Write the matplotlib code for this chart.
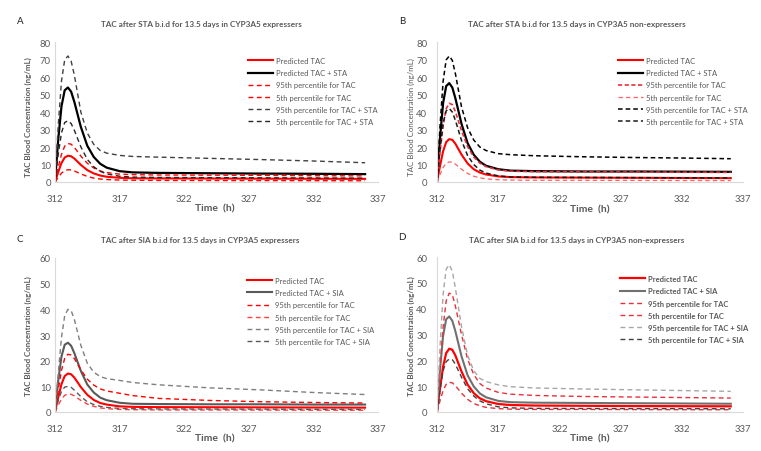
import matplotlib
matplotlib.use("Agg")
import matplotlib.pyplot as plt

plt.rcParams['font.family'] = ['Lato', 'DejaVu Sans']

# ------------------ Data ------------------
time_h = [312, 312.25, 312.5, 312.75, 313, 313.25, 313.5, 314, 314.5, 315, 315.5,
          316, 317, 318, 320, 324, 328, 332, 336]
x_ticks = [312, 317, 322, 327, 332, 337]

# A: STA, CYP3A5 expressers
a_tac = [0, 5.7, 10.8, 14.0, 15.0, 14.7, 13.4, 9.8, 6.8, 4.9, 3.7, 3.0, 2.4, 2.15, 2.05, 2.0, 1.9, 1.85, 1.8]
a_sta = [0, 24.3, 43.2, 52.4, 54.0, 51.6, 45.7, 31.5, 20.7, 14.3, 10.4, 8.2, 6.2, 5.5, 5.2, 5.0, 4.8, 4.7, 4.5]
a_tac95 = [0, 8.4, 15.8, 20.5, 22.0, 21.6, 19.8, 14.8, 10.7, 8.0, 6.3, 5.4, 4.5, 4.2, 4.0, 3.9, 3.8, 3.6, 3.5]
a_tac5 = [0, 2.7, 5.0, 6.5, 7.0, 6.9, 6.3, 4.6, 3.2, 2.2, 1.7, 1.4, 1.1, 1.0, 0.9, 0.85, 0.8, 0.75, 0.7]
a_sta95 = [0, 32.4, 57.6, 69.8, 72.0, 69.0, 61.0, 40.0, 28.0, 21.5, 18.0, 16.5, 15.2, 14.6, 14.2, 13.5, 12.8, 12.0, 11.0]
a_sta5 = [0, 15.8, 28.0, 34.0, 35.0, 33.4, 29.5, 20.1, 12.9, 8.7, 6.1, 4.6, 3.3, 2.8, 2.6, 2.5, 2.4, 2.3, 2.2]

# B: STA, CYP3A5 non-expressers
b_tac = [0, 9.3, 17.6, 22.8, 24.5, 24.1, 21.9, 15.7, 10.6, 7.3, 5.4, 4.3, 3.2, 2.8, 2.6, 2.5, 2.4, 2.3, 2.2]
b_sta = [0, 25.4, 45.2, 54.8, 56.5, 54.0, 47.9, 33.3, 22.2, 15.6, 11.6, 9.3, 7.3, 6.5, 6.2, 6.0, 6.0, 5.9, 5.8]
b_tac95 = [0, 17.1, 32.4, 41.9, 45.0, 44.2, 40.3, 29.3, 20.2, 14.3, 10.8, 8.8, 6.9, 6.2, 5.9, 5.8, 5.7, 5.6, 5.5]
b_tac5 = [0, 4.4, 8.3, 10.7, 11.5, 11.3, 10.2, 7.3, 4.9, 3.3, 2.4, 1.8, 1.3, 1.1, 1.0, 0.95, 0.9, 0.85, 0.8]
b_sta95 = [0, 32.4, 57.6, 69.8, 72.0, 69.5, 62.0, 43.0, 31.0, 24.0, 20.0, 18.0, 16.2, 15.6, 15.0, 14.4, 14.0, 13.7, 13.3]
b_sta5 = [0, 18.9, 33.6, 40.7, 42.0, 40.0, 35.3, 23.8, 15.1, 10.0, 6.8, 5.1, 3.5, 2.9, 2.7, 2.6, 2.5, 2.4, 2.3]

# C: SIA, CYP3A5 expressers
c_tac = [0, 5.7, 10.8, 14.0, 15.0, 14.7, 13.4, 9.7, 6.7, 4.7, 3.5, 2.9, 2.2, 2.0, 1.9, 1.85, 1.8, 1.75, 1.7]
c_sia = [0, 12.2, 21.6, 26.2, 27.0, 25.8, 22.9, 16.0, 10.7, 7.6, 5.6, 4.6, 3.6, 3.2, 3.1, 3.0, 3.0, 2.9, 2.9]
c_tac95 = [0, 8.6, 16.2, 20.9, 22.5, 22.2, 20.8, 16.5, 12.8, 10.5, 9.0, 8.2, 7.3, 6.4, 5.3, 4.5, 4.0, 3.7, 3.5]
c_tac5 = [0, 2.7, 5.0, 6.5, 7.0, 6.9, 6.3, 4.5, 3.1, 2.2, 1.6, 1.3, 1.0, 0.9, 0.8, 0.8, 0.75, 0.7, 0.7]
c_sia95 = [0, 15.0, 29.0, 37.5, 40.0, 39.5, 36.0, 26.0, 19.0, 15.5, 13.8, 13.0, 12.3, 11.5, 10.6, 9.4, 8.6, 7.6, 6.8]
c_sia5 = [0, 4.5, 8.0, 9.7, 10.0, 9.6, 8.5, 6.0, 4.0, 2.9, 2.2, 1.8, 1.4, 1.3, 1.2, 1.15, 1.1, 1.05, 1.0]

# D: SIA, CYP3A5 non-expressers
d_tac = [0, 9.3, 17.6, 22.8, 24.5, 24.1, 21.9, 15.7, 10.6, 7.3, 5.3, 4.2, 3.1, 2.7, 2.5, 2.4, 2.3, 2.25, 2.2]
d_sia = [0, 16.7, 29.6, 35.9, 37.0, 35.3, 31.3, 21.6, 14.2, 9.9, 7.2, 5.7, 4.3, 3.8, 3.6, 3.5, 3.4, 3.3, 3.2]
d_tac95 = [0, 17.5, 33.0, 43.0, 46.0, 45.5, 41.0, 30.0, 20.5, 14.5, 11.0, 9.3, 7.6, 6.9, 6.4, 6.0, 5.8, 5.6, 5.4]
d_tac5 = [0, 4.4, 8.3, 10.7, 11.5, 11.3, 10.2, 7.3, 4.9, 3.3, 2.4, 1.8, 1.3, 1.1, 1.0, 1.0, 0.95, 0.9, 0.9]
d_sia95 = [0, 25.6, 45.6, 55.3, 57.0, 54.5, 48.0, 33.0, 22.0, 16.0, 13.0, 11.8, 10.5, 9.8, 9.3, 8.9, 8.6, 8.3, 8.0]
d_sia5 = [0, 8.5, 16.0, 19.5, 20.5, 20.3, 18.5, 13.5, 9.0, 6.2, 4.3, 3.2, 2.0, 1.6, 1.4, 1.35, 1.3, 1.3, 1.25]

TXT = '#595959'
W, H = 761, 452

fig = plt.figure(figsize=(W / 100, H / 100), dpi=100)


def px_axes(left, right, top, bottom):
    # axes box given in pixel coords of the figure
    return fig.add_axes([left / W, 1 - bottom / H, (right - left) / W, (bottom - top) / H])


def style_axes(ax, ymax, ypad):
    ax.set_xlim(312, 337)
    ax.set_ylim(0, ymax)
    ax.set_xticks(x_ticks)
    ax.set_yticks(range(0, ymax + 1, 10))
    for s in ['top', 'right']:
        ax.spines[s].set_visible(False)
    for s in ['left', 'bottom']:
        ax.spines[s].set_color('#D9D9D9')
        ax.spines[s].set_linewidth(0.8)
    ax.tick_params(length=0, labelsize=6.8, colors=TXT)
    ax.tick_params(axis='y', pad=ypad)
    ax.tick_params(axis='x', pad=9)


def add_legend(ax, x, y, bold=False):
    leg = ax.legend(loc='upper left', bbox_to_anchor=(x, y), frameon=False,
                    handlelength=3.3, handletextpad=0.35, labelspacing=0.68,
                    borderpad=0, borderaxespad=0, labelcolor=TXT,
                    prop={'size': 5.5, 'weight': 'bold' if bold else 'normal'})
    return leg


def texts(cx, title, ty, tx, time_y, letter, lx, ly, ylab_x, ylab_y, ybold=True):
    fig.text(cx / W, 1 - ty / H, title, ha='center', va='center', fontsize=5.9,
             color=TXT, fontweight='bold')
    fig.text(lx / W, 1 - ly / H, letter, ha='center', va='center', fontsize=7, color='#222222')
    fig.text(tx / W, 1 - time_y / H, 'Time  (h)', ha='center', va='center',
             fontsize=7.5, color=TXT, fontweight='bold')
    fig.text(ylab_x / W, 1 - ylab_y / H, 'TAC Blood Concentration (ng/mL)', rotation=90,
             ha='center', va='center', fontsize=5.7, color=TXT,
             fontweight='bold' if ybold else 'normal')


dash = (0, (3.5, 2.5))

# -------- A --------
ax = px_axes(55, 378, 43, 183)
ax.plot(time_h, a_tac, color='#FF0000', lw=1.5, label='Predicted TAC')
ax.plot(time_h, a_sta, color='black', lw=1.6, label='Predicted TAC + STA')
ax.plot(time_h, a_tac95, color='#FF0000', lw=1, ls=dash, label='95th percentile for TAC')
ax.plot(time_h, a_tac5, color='#FF0000', lw=1, ls=dash, label='5th percentile for TAC')
ax.plot(time_h, a_sta95, color='#404040', lw=1, ls=dash, label='95th percentile for TAC + STA')
ax.plot(time_h, a_sta5, color='#262626', lw=1, ls=dash, label='5th percentile for TAC + STA')
style_axes(ax, 80, 3)
add_legend(ax, 0.598, 0.893)
texts(201, 'TAC after STA b.i.d for 13.5 days in CYP3A5 expressers', 25, 215, 209,
      'A', 20, 22, 28, 117)

# -------- B --------
ax = px_axes(437, 743, 43, 183)
ax.plot(time_h, b_tac, color='#FF0000', lw=1.5, label='Predicted TAC')
ax.plot(time_h, b_sta, color='black', lw=1.6, label='Predicted TAC + STA')
ax.plot(time_h, b_tac95, color='#E8303A', lw=1.2, ls=(0, (2.5, 1.5)), label='95th percentile for TAC')
ax.plot(time_h, b_tac5, color='#FF6060', lw=0.9, ls=dash, label='5th percentile for TAC')
ax.plot(time_h, b_sta95, color='black', lw=1.1, ls=(0, (3, 2)), label='95th percentile for TAC + STA')
ax.plot(time_h, b_sta5, color='#1A1A1A', lw=1.1, ls=(0, (3, 2)), label='5th percentile for TAC + STA')
style_axes(ax, 80, 7)
add_legend(ax, 0.592, 0.893)
texts(577, 'TAC after STA b.i.d for 13.5 days in CYP3A5 non-expressers', 25, 590, 210,
      'B', 402, 22, 411, 117, ybold=False)

# -------- C --------
ax = px_axes(55, 378, 259, 413)
ax.plot(time_h, c_tac, color='#FF0000', lw=1.5, label='Predicted TAC')
ax.plot(time_h, c_sia, color='#595959', lw=1.5, label='Predicted TAC + SIA')
ax.plot(time_h, c_tac95, color='#FF0000', lw=1, ls=dash, label='95th percentile for TAC')
ax.plot(time_h, c_tac5, color='#FF4040', lw=1, ls=dash, label='5th percentile for TAC')
ax.plot(time_h, c_sia95, color='#7F7F7F', lw=1, ls=dash, label='95th percentile for TAC + SIA')
ax.plot(time_h, c_sia5, color='#595959', lw=1, ls=dash, label='5th percentile for TAC + SIA')
style_axes(ax, 60, 3)
add_legend(ax, 0.594, 0.877)
texts(200, 'TAC after SIA b.i.d for 13.5 days in CYP3A5 expressers', 241, 215, 439,
      'C', 20, 240, 28, 336)

# -------- D --------
ax = px_axes(437, 743, 258, 413)
ax.plot(time_h, d_tac, color='#FF0000', lw=1.6, label='Predicted TAC')
ax.plot(time_h, d_sia, color='#707070', lw=1.5, label='Predicted TAC + SIA')
ax.plot(time_h, d_tac95, color='#E8303A', lw=1, ls=dash, label='95th percentile for TAC')
ax.plot(time_h, d_tac5, color='#E8303A', lw=1, ls=dash, label='5th percentile for TAC')
ax.plot(time_h, d_sia95, color='#A6A6A6', lw=1, ls=dash, label='95th percentile for TAC + SIA')
ax.plot(time_h, d_sia5, color='#404040', lw=1, ls=dash, label='5th percentile for TAC + SIA')
style_axes(ax, 60, 7)
add_legend(ax, 0.598, 0.883, bold=True)
texts(577, 'TAC after SIA b.i.d for 13.5 days in CYP3A5 non-expressers', 241, 590, 439,
      'D', 402, 238, 411, 336)

fig.savefig('out.png', dpi=100)
